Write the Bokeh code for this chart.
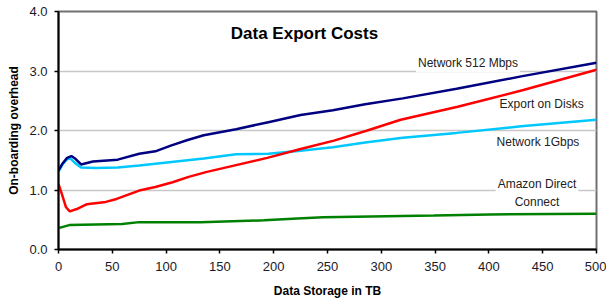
from bokeh.plotting import figure
from bokeh.models import Label, FixedTicker, NumeralTickFormatter, Range1d
from bokeh.embed import file_html
from bokeh.resources import INLINE

# ---- data ----
x_512 = [0, 4, 8, 12, 16, 21, 32, 55, 75, 90, 105, 120, 135, 165, 195, 225, 255, 285, 320, 370, 430, 500]
y_512 = [1.33, 1.45, 1.54, 1.57, 1.52, 1.43, 1.48, 1.51, 1.61, 1.65, 1.75, 1.84, 1.92, 2.02, 2.14, 2.26, 2.34, 2.44, 2.54, 2.70, 2.91, 3.14]

x_1g = [0, 4, 8, 11, 15, 21, 35, 55, 75, 90, 105, 120, 135, 165, 195, 225, 255, 285, 320, 370, 430, 500]
y_1g = [1.31, 1.44, 1.52, 1.53, 1.46, 1.38, 1.37, 1.38, 1.41, 1.44, 1.47, 1.50, 1.53, 1.60, 1.61, 1.66, 1.72, 1.80, 1.88, 1.96, 2.07, 2.18]

x_disk = [0, 3, 7, 10.5, 17, 26, 44, 54, 75, 90, 106, 121, 137, 163, 194, 225, 256, 287, 318, 371, 432, 500]
y_disk = [1.10, 0.94, 0.71, 0.64, 0.68, 0.76, 0.80, 0.85, 0.99, 1.05, 1.13, 1.22, 1.30, 1.41, 1.54, 1.69, 1.83, 2.00, 2.18, 2.40, 2.68, 3.02]

x_dc = [0, 10, 59, 75, 132, 191, 222, 246, 349, 401, 500]
y_dc = [0.36, 0.41, 0.43, 0.46, 0.46, 0.49, 0.52, 0.54, 0.57, 0.59, 0.60]

x_ticks = [0, 50, 100, 150, 200, 250, 300, 350, 400, 450, 500]
y_ticks = [0, 1, 2, 3, 4]

title_text = "Data Export Costs"
x_title = "Data Storage in TB"
y_title = "On-boarding overhead"
series_labels = ["Network 512 Mbps", "Export on Disks", "Network 1Gbps", "Amazon Direct\nConnect"]

FONT = "Liberation Sans"

p = figure(width=606, height=300, output_backend="svg", toolbar_location=None,
           x_range=Range1d(0, 500), y_range=Range1d(0, 4),
           min_border_left=58, min_border_right=10, min_border_top=11, min_border_bottom=51)
p.frame_width = 538
p.frame_height = 238

p.background_fill_color = "white"
p.border_fill_color = "white"
p.outline_line_color = "#707070"
p.outline_line_width = 2

p.xgrid.grid_line_color = None
p.ygrid.grid_line_color = "#c8c8c8"
p.ygrid.grid_line_width = 1.5

p.xaxis.ticker = FixedTicker(ticks=x_ticks)
p.yaxis.ticker = FixedTicker(ticks=y_ticks)
p.yaxis.formatter = NumeralTickFormatter(format="0.0")

for ax in (p.xaxis, p.yaxis):
    ax.axis_line_color = "black"
    ax.axis_line_width = 2
    ax.major_tick_line_color = "black"
    ax.major_tick_line_width = 1.5
    ax.major_tick_in = 0
    ax.major_tick_out = 4
    ax.minor_tick_line_color = None
    ax.major_label_text_font = FONT
    ax.major_label_text_font_size = "13px"
    ax.major_label_text_color = "#1a1a2a"
    ax.axis_label_text_font = FONT
    ax.axis_label_text_font_size = "12px"
    ax.axis_label_text_font_style = "bold"
    ax.axis_label_text_color = "black"

p.xaxis.major_label_standoff = 8
p.xaxis.axis_label_standoff = 10
p.yaxis.major_label_standoff = 7
p.yaxis.axis_label_standoff = 5
p.xaxis.axis_label = x_title
p.yaxis.axis_label = y_title

p.add_layout(Label(x=228.6, y=3.625, text=title_text, text_font=FONT, text_font_size="17px",
                   text_font_style="bold", text_align="center", text_baseline="middle",
                   text_color="black"))

label_pos = [(380.6, 3.13), (449, 2.45), (445.6, 1.80), (444.7, 0.95)]
for (lx, ly), t in zip(label_pos, series_labels):
    p.add_layout(Label(x=lx, y=ly, text=t, text_font=FONT, text_font_size="12px",
                       text_align="center", text_baseline="middle", text_color="#222222",
                       text_line_height=1.25, level="underlay",
                       background_fill_color="white", padding=2))

p.line(x_1g, y_1g, line_color="#00c8ff", line_width=2.5)
p.line(x_512, y_512, line_color="#000080", line_width=2.5)
p.line(x_disk, y_disk, line_color="#ff0000", line_width=2.5)
p.line(x_dc, y_dc, line_color="#008000", line_width=2.5)

open("out.html", "w").write(file_html(p, INLINE))
